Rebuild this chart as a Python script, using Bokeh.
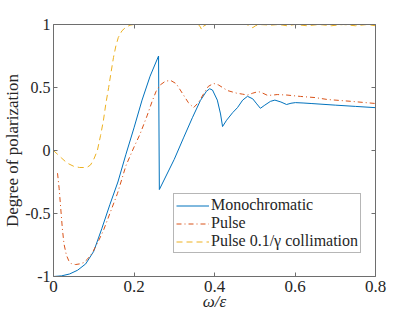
from bokeh.plotting import figure
from bokeh.models import Range1d, FixedTicker, LinearAxis, Legend, LegendItem, CustomJSTickFormatter
from bokeh.embed import file_html
from bokeh.resources import INLINE

# ---- data ----
x_ticks = [0, 0.2, 0.4, 0.6, 0.8]
x_tick_labels = ["0", "0.2", "0.4", "0.6", "0.8"]
y_ticks = [-1, -0.5, 0, 0.5, 1]
y_tick_labels = ["-1", "-0.5", "0", "0.5", "1"]

mono_x = [0, 0.02, 0.04, 0.06, 0.08, 0.10, 0.12, 0.14, 0.16, 0.18, 0.20, 0.22, 0.24, 0.261,
          0.263, 0.30, 0.323, 0.345, 0.365, 0.38, 0.388, 0.395, 0.407, 0.415, 0.42, 0.43,
          0.445, 0.457, 0.47, 0.482, 0.495, 0.505, 0.514, 0.525, 0.539, 0.55, 0.565, 0.579,
          0.59, 0.601, 0.62, 0.64, 0.70, 0.75, 0.80]
mono_y = [-1, -0.995, -0.98, -0.95, -0.90, -0.80, -0.62, -0.43, -0.25, -0.03, 0.18, 0.40, 0.59, 0.75,
          -0.31, -0.07, 0.10, 0.26, 0.397, 0.47, 0.49, 0.48, 0.40, 0.29, 0.19, 0.24,
          0.30, 0.34, 0.40, 0.43, 0.41, 0.37, 0.335, 0.36, 0.39, 0.40, 0.385, 0.365,
          0.375, 0.38, 0.377, 0.373, 0.36, 0.35, 0.34]

pulse_x = [0.01, 0.014, 0.018, 0.022, 0.026, 0.032, 0.038, 0.045, 0.055, 0.065, 0.075, 0.085,
           0.095, 0.11, 0.124, 0.14, 0.159, 0.18, 0.199, 0.215, 0.233, 0.245, 0.255, 0.265,
           0.278, 0.291, 0.305, 0.323, 0.335, 0.348, 0.36, 0.373, 0.385, 0.398, 0.41, 0.432,
           0.455, 0.47, 0.482, 0.495, 0.509, 0.52, 0.532, 0.545, 0.556, 0.58, 0.614, 0.65,
           0.68, 0.74, 0.80]
pulse_y = [-0.18, -0.30, -0.46, -0.62, -0.74, -0.83, -0.875, -0.90, -0.905, -0.90, -0.89, -0.86,
           -0.82, -0.73, -0.635, -0.50, -0.34, -0.12, 0.02, 0.13, 0.28, 0.39, 0.47, 0.52,
           0.55, 0.556, 0.53, 0.44, 0.38, 0.34, 0.38, 0.45, 0.51, 0.532, 0.52, 0.476,
           0.455, 0.447, 0.44, 0.455, 0.468, 0.455, 0.437, 0.44, 0.444, 0.44, 0.429, 0.42,
           0.405, 0.39, 0.373]

coll_x = [0, 0.01, 0.02, 0.034, 0.05, 0.065, 0.075, 0.085, 0.092, 0.10, 0.109, 0.117, 0.124,
          0.13, 0.137, 0.143, 0.149, 0.155, 0.161, 0.17, 0.179, 0.19, 0.20, 0.30, 0.36, 0.365,
          0.368, 0.372, 0.38, 0.48, 0.49, 0.495, 0.502, 0.51, 0.54, 0.56, 0.58, 0.60, 0.63,
          0.66, 0.69, 0.72, 0.75, 0.78, 0.80]
coll_y = [0.0, -0.03, -0.06, -0.10, -0.125, -0.135, -0.135, -0.13, -0.115, -0.07, 0.0, 0.12, 0.238,
          0.37, 0.50, 0.62, 0.738, 0.83, 0.897, 0.95, 0.976, 0.995, 1.0, 1.0, 1.0, 0.98,
          0.96, 0.985, 1.0, 1.0, 0.985, 0.975, 0.99, 1.0, 0.995, 1.0, 0.99, 1.0, 0.99,
          1.0, 0.99, 1.0, 0.99, 1.0, 0.99]

series_names = ["Monochromatic", "Pulse", "Pulse 0.1/\u03b3 collimation"]
x_label = "\u03c9/\u03b5"
y_label = "Degree of polarization"

FONT = "Liberation Serif"
TXT = "#262626"
AX = "#6e6e6e"

p = figure(width=400, height=318, output_backend="svg", toolbar_location=None,
           x_range=Range1d(0, 0.8), y_range=Range1d(-1, 1),
           min_border_left=53, min_border_right=25, min_border_top=24, min_border_bottom=42)
p.grid.visible = False
p.outline_line_color = None
p.background_fill_color = "white"

def fmt(ticks, labels):
    return CustomJSTickFormatter(args=dict(t=ticks, l=labels), code="""
        for (let i = 0; i < t.length; i++) { if (Math.abs(t[i] - tick) < 1e-9) return l[i]; }
        return String(tick);""")

def style(ax, ticks, labels, show):
    ax.ticker = FixedTicker(ticks=ticks)
    ax.axis_line_color = AX
    ax.axis_line_width = 1
    ax.major_tick_line_color = AX
    ax.major_tick_in = 4
    ax.major_tick_out = 0
    ax.minor_tick_in = 0
    ax.minor_tick_out = 0
    ax.major_label_text_font = FONT
    ax.major_label_text_color = TXT
    ax.major_label_standoff = 3
    ax.major_label_text_font_size = "17px"
    if show:
        ax.formatter = fmt(ticks, labels)
    else:
        ax.major_label_text_font_size = "1px"
        ax.major_label_standoff = 0
        ax.formatter = CustomJSTickFormatter(code="return ''")

xb = p.xaxis[0]
yl = p.yaxis[0]
style(xb, x_ticks, x_tick_labels, True)
style(yl, y_ticks, y_tick_labels, True)
xb.major_label_standoff = 4
yl.major_label_standoff = 3
yl.major_label_text_font_size = "16px"
top = LinearAxis()
right = LinearAxis()
style(top, x_ticks, x_tick_labels, False)
style(right, y_ticks, y_tick_labels, False)
p.add_layout(top, "above")
p.add_layout(right, "right")

yl.axis_label = y_label
yl.axis_label_text_font = FONT
yl.axis_label_text_font_size = "17px"
yl.axis_label_text_font_style = "normal"
yl.axis_label_text_color = TXT
yl.axis_label_standoff = 0

xb.axis_label = x_label
xb.axis_label_text_font = FONT
xb.axis_label_text_font_size = "17px"
xb.axis_label_text_font_style = "italic"
xb.axis_label_text_color = TXT
xb.axis_label_standoff = -3

r1 = p.line(mono_x, mono_y, line_color="#0072BD", line_width=1)
r2 = p.line(pulse_x, pulse_y, line_color="#D95319", line_width=1, line_dash="5 3 1 3")
r3 = p.line(coll_x, coll_y, line_color="#EDB120", line_width=1, line_dash="6 4")

legend = Legend(items=[LegendItem(label=series_names[0], renderers=[r1]),
                       LegendItem(label=series_names[1], renderers=[r2]),
                       LegendItem(label=series_names[2], renderers=[r3])],
                location=(120, 23))
legend.label_text_font = FONT
legend.label_text_font_size = "16px"
legend.label_text_color = TXT
legend.glyph_width = 33
legend.glyph_height = 17
legend.label_height = 17
legend.spacing = 0
legend.padding = 2
legend.margin = 0
legend.label_standoff = 2
legend.border_line_color = AX
legend.border_line_width = 1
legend.background_fill_color = "white"
legend.background_fill_alpha = 1
p.add_layout(legend)

open("out.html", "w").write(file_html(p, INLINE))
